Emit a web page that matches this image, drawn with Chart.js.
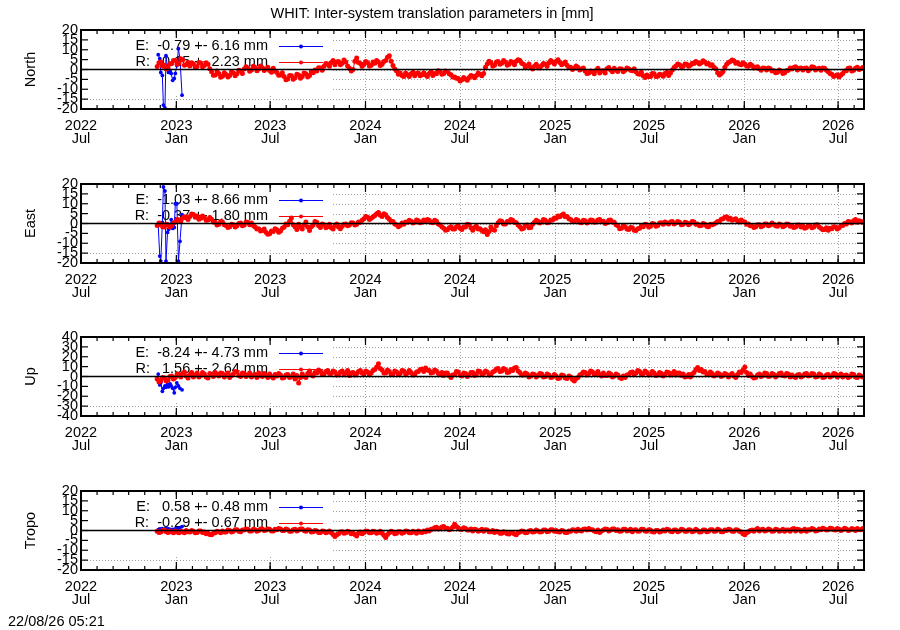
<!DOCTYPE html>
<html>
<head>
<meta charset="utf-8">
<script src="https://cdn.jsdelivr.net/npm/chart.js@4.4.1/dist/chart.umd.min.js"></script>
<style>
    body { margin: 0; background: #fff; }
    #wrap { position: relative; width: 900px; height: 630px; overflow: hidden; }
    .panel { position: absolute; left: 0; width: 900px; height: 154px; }
    #stamp { position: absolute; left: 8px; top: 614px; font: 14.5px "Liberation Sans", Arial, sans-serif; line-height: 14px; color: #000; }
</style>
</head>
<body>
<div id="wrap">
    <div class="panel" style="top:0px"><canvas id="c0" width="900" height="154"></canvas></div>
    <div class="panel" style="top:154px"><canvas id="c1" width="900" height="154"></canvas></div>
    <div class="panel" style="top:307px"><canvas id="c2" width="900" height="154"></canvas></div>
    <div class="panel" style="top:461px"><canvas id="c3" width="900" height="154"></canvas></div>
    <div id="stamp">22/08/26 05:21</div>
</div>
<script>
// 軸の設定
const xStart = "2022-07-01";
const xEnd = "2026-08-20";
const xTickDates = ["2022-07-01", "2023-01-01", "2023-07-01", "2024-01-01", "2024-07-01", "2025-01-01", "2025-07-01", "2026-01-01", "2026-07-01"];
const xTickYears = ["2022", "2023", "2023", "2024", "2024", "2025", "2025", "2026", "2026"];
const xTickMonths = ["Jul", "Jan", "Jul", "Jan", "Jul", "Jan", "Jul", "Jan", "Jul"];

const panelNames = ["North", "East", "Up", "Tropo"];
const yLimits = [20, 20, 40, 20];
const yStepSizes = [5, 5, 10, 5];
const keyE = ["E:  -0.79 +- 6.16 mm", "E:  -1.03 +- 8.66 mm", "E:  -8.24 +- 4.73 mm", "E:   0.58 +- 0.48 mm"];
const keyR = ["R:   0.15 +- 2.23 mm", "R:  -0.37 +- 1.80 mm", "R:   1.56 +- 2.64 mm", "R:  -0.29 +- 0.67 mm"];

// R系列（3.5日ごと）
const redStart = "2022-11-25";
const redStepDays = 3.5;

const northR = [
    1.5, 3.4, 3.8, 1.6, 2.2, 0.2, 0.8, 2.8, 3.0, 4.6, 4.5, 2.6, 3.2, 5.4, 4.8, 2.2, 2.5, 3.6, 1.8, 3.4,
    2.8, 1.0, 1.5, 3.6, 3.3, 1.4, 2.0, 3.4, 2.6, 0.4, -1.2, -2.9, -2.8, -0.8, -2.0, -3.9, -3.4, -1.6, -2.5, -3.8,
    -3.0, -1.2, -1.8, -3.2, -2.2, -0.4, -0.8, -2.0, 0.2, 1.4, 0.8, -0.9, -0.3, 1.6, 1.0, -0.6, 0.2, 1.8, 0.9, -0.5,
    0.3, 1.2, -0.5, -1.4, 0.6, -0.8, -1.5, -2.9, -2.8, -1.6, -3.6, -5.2, -4.8, -3.0, -3.2, -4.9, -4.2, -2.4, -2.8, -4.4,
    -3.5, -1.8, -2.2, -3.8, -3.0, -1.2, -1.6, -0.2, -0.8, 0.9, 0.8, -0.4, 1.6, 3.0, 2.8, 1.6, 3.6, 4.6, 2.4, 3.8,
    4.0, 2.4, 3.2, 4.8, 3.8, 1.8, 0.6, -0.8, 0.0, 4.2, 5.8, 3.6, 3.0, 1.6, 2.6, 4.0, 3.4, 1.8, 2.2, 3.8,
    3.2, 4.6, 3.8, 2.0, 2.6, 4.0, 4.6, 6.2, 7.0, 4.2, 2.0, 0.2, -0.8, -2.4, -1.8, -3.0, -3.6, -1.8, -2.6, -3.6,
    -2.2, -1.4, -3.2, -2.0, -1.8, -3.2, -2.6, -1.6, -2.8, -3.6, -2.0, -1.2, -3.0, -2.0, -2.2, -0.6, -1.0, -2.4, -2.0, -0.8,
    -1.0, -2.2, -2.6, -3.8, -3.8, -4.4, -4.6, -5.8, -5.2, -4.0, -4.8, -5.4, -4.0, -3.0, -3.4, -4.2, -3.0, -1.8, -2.4, -3.2,
    -2.0, 1.2, 2.8, 4.2, 3.6, 1.8, 2.2, 3.8, 4.0, 2.6, 3.2, 4.6, 3.8, 2.2, 2.6, 4.0, 3.5, 2.4, 4.2, 5.0,
    4.6, 3.2, 2.6, 1.0, 1.8, 2.8, 1.0, 0.2, 1.6, 2.6, 1.4, 0.8, 2.0, 3.0, 2.6, 1.6, 3.4, 4.6, 3.8, 2.8,
    4.2, 5.0, 3.6, 2.4, 3.0, 3.8, 2.2, 1.0, 1.2, 0.0, 0.6, 1.8, 1.2, -0.2, 0.2, 0.8, -0.8, -2.0, -1.8, -0.8,
    -1.2, -2.2, -0.5, 0.6, -1.8, -0.8, -0.6, -1.8, 0.4, 1.0, -0.2, -1.2, 0.6, -0.4, -1.0, 0.4, 0.2, -1.2, -0.4, 0.8,
    0.4, -0.4, -0.6, 0.4, -1.2, -2.2, -2.4, -1.4, -3.2, -4.0, -2.8, -3.6, -3.6, -2.0, -2.2, -3.6, -3.4, -2.4, -2.6, -3.4,
    -2.0, -1.4, -3.0, -1.8, -0.2, 1.0, 1.8, 2.8, 2.4, 1.4, 1.6, 2.8, 2.6, 1.6, 2.2, 3.2, 3.0, 4.0, 3.6, 2.8,
    3.4, 4.4, 3.8, 2.8, 3.0, 2.0, 2.4, 1.2, 0.4, -1.6, -2.8, -2.0, -1.0, 1.2, 2.6, 3.6, 4.0, 4.8, 4.4, 3.2,
    3.6, 2.6, 2.4, 3.4, 2.8, 1.8, 1.6, 2.6, 2.0, 0.8, 1.2, 1.4, 0.4, -0.4, 0.8, 0.6, -0.2, 0.8, 0.4, -0.8,
    -0.6, -1.6, -1.4, -0.2, -0.8, -2.0, -1.6, -0.6, -0.4, 0.8, 0.2, 1.0, 1.4, -0.2, 0.6, 0.8, -0.2, 0.6, 0.8, -0.6,
    0.2, 1.4, 1.2, -0.2, 0.4, 0.6, -0.4, 0.8, 0.6, -0.4, -1.2, -2.0, -2.4, -3.6, -3.2, -2.6, -3.8, -2.8, -2.0, -0.8,
    -0.6, 0.6, 0.8, -0.8, -0.4, 0.6, 1.2, 0.0, 0.4, 1.0
];
const eastR = [
    -1.0, 0.2, -0.4, -1.6, -1.8, -0.4, -0.6, -1.8, -1.2, 0.2, 0.8, 2.0, 1.8, 1.0, 2.6, 3.4, 3.2, 2.0, 3.6, 4.8,
    4.6, 3.2, 3.8, 2.2, 2.6, 3.8, 3.0, 1.6, 1.8, 3.0, 2.2, 0.8, 0.6, -0.8, -0.4, 1.0, 0.8, -0.6, -1.0, -2.0,
    -1.6, -0.4, -0.6, -1.8, -1.2, 0.0, 0.2, -1.2, -0.8, 0.8, 0.6, -0.6, 0.2, -1.0, -1.8, -2.8, -2.6, -3.8, -3.6, -2.8,
    -4.4, -5.4, -5.2, -3.8, -4.0, -2.6, -3.2, -4.4, -3.8, -2.4, -1.8, -0.2, -0.6, 1.2, 2.8, -0.6, -1.6, -3.0, -0.4, -1.8,
    -2.8, -0.8, 0.8, -1.8, -3.6, -1.6, -0.8, 1.0, 0.6, -1.2, -2.0, -0.2, -0.6, -2.2, -1.6, -0.4, -2.2, -2.8, -1.0, -0.2,
    -1.8, -2.6, -1.4, -0.4, -0.2, -1.2, -0.8, 0.4, 0.2, -0.8, -0.4, 0.8, 0.6, 1.6, 2.4, 3.6, 3.2, 2.0, 2.6, 3.4,
    4.0, 5.0, 5.6, 4.2, 3.6, 5.0, 4.4, 3.0, 2.2, 1.2, 1.0, -0.2, -0.6, -1.6, -1.0, 0.2, -0.4, 0.8, 0.6, 1.6,
    1.2, 0.2, 0.6, 1.8, 1.4, 0.4, 0.8, 1.8, 1.0, 2.0, 1.6, 0.6, 0.4, 1.6, 1.2, -0.2, -0.8, -1.6, -2.4, -3.4,
    -3.2, -2.2, -1.6, -2.8, -2.8, -1.6, -1.2, -2.4, -3.0, -1.8, -1.8, -0.4, -0.6, -2.2, -3.4, -2.0, -1.4, -2.8, -2.6, -3.6,
    -4.2, -3.2, -5.6, -4.0, -1.8, -3.0, -3.4, -1.2, 0.4, 1.4, 1.2, -0.2, -0.2, 1.0, 0.8, 2.0, 1.6, 0.6, 0.4, -0.8,
    -1.6, -2.8, -2.4, -1.0, -0.8, -2.2, -2.0, -0.4, 0.6, 1.6, 1.2, 0.2, 0.8, 2.0, 1.6, 0.4, 0.6, 1.8, 1.8, 2.8,
    2.6, 3.8, 3.4, 4.2, 4.8, 3.4, 3.6, 2.4, 2.0, 1.0, 1.0, 2.0, 1.6, 0.6, 0.4, 1.6, 1.4, 0.2, 0.8, 1.8,
    1.6, 0.6, 0.8, 1.8, 2.0, 1.0, 1.2, 0.0, 0.4, 1.6, 1.8, 0.8, 0.6, -0.6, -1.2, -2.6, -2.4, -1.2, -1.6, -2.8,
    -3.0, -2.0, -2.2, -3.4, -3.6, -2.6, -2.4, -1.2, -1.6, -0.4, -0.6, -1.8, -1.4, 0.0, -0.2, -1.4, -1.0, 0.2, 0.4, -0.4,
    0.8, 0.2, -0.2, 0.8, 1.0, -0.2, 0.2, 1.0, 0.6, -0.6, -0.4, 0.6, 0.4, -0.6, 0.0, 1.0, 0.8, -0.4, -0.2, -1.2,
    -1.0, 0.0, -0.4, -1.4, -1.6, -0.4, -0.6, -0.2, 0.2, 1.0, 1.2, 2.2, 2.4, 3.2, 3.4, 2.2, 2.6, 1.6, 2.0, 2.4,
    1.4, 0.8, 1.8, 1.0, 0.8, -0.4, -0.2, -1.2, -1.0, -2.0, -1.6, -0.6, -0.6, -1.6, -1.2, -0.2, -0.2, -1.2, -0.8, 0.2,
    -0.4, -1.2, -1.4, -0.2, -0.6, -1.6, -1.2, -0.2, -0.4, -1.4, -1.0, -2.0, -1.8, -0.8, -0.8, -1.8, -1.4, -2.4, -2.0, -1.0,
    -1.2, -2.2, -1.8, -0.8, -0.6, -1.8, -2.4, -3.2, -3.0, -2.2, -3.4, -2.4, -2.6, -1.6, -1.8, -2.8, -2.2, -1.2, -1.0, 0.0,
    -0.2, 1.0, 0.8, 0.2, 1.4, 2.0, 0.6, 1.4, 1.2, 0.6
];
const upR = [
    -2.5, -5.5, -4.0, -1.0, -1.5, -4.5, -3.5, 0.0, 0.5, -2.5, -1.0, 2.5, 1.5, -0.5, 3.0, 4.5, 0.5, -1.5, 2.0, 4.0,
    -0.5, 1.5, 3.5, -0.5, 1.0, 4.0, 2.5, -0.5, -1.5, 3.0, 2.0, 0.0, 4.0, 2.0, 0.5, 3.5, 3.0, -0.5, 1.5, 3.5,
    -1.0, 1.0, 2.5, 5.0, 4.5, 1.0, 0.0, 3.5, 3.0, 0.0, 1.5, 3.5, -0.5, 1.5, 2.0, -1.0, 3.5, 1.0, 0.0, 3.0,
    1.0, -1.0, 2.5, 0.0, -1.5, 2.0, 0.5, 3.0, 1.5, -1.5, -1.0, 1.5, 2.0, -1.0, 0.0, 2.5, -2.5, 1.0, -6.5, -1.0,
    2.5, 0.0, -1.0, 3.0, 5.5, 1.5, 0.5, 4.0, 3.5, 6.5, 5.0, 2.0, 2.5, 5.0, 6.0, 3.0, 3.0, 5.5, 4.5, 1.5,
    2.0, 4.5, 5.5, 2.0, 3.5, 6.0, 1.0, 3.5, 4.0, 1.5, 3.0, 5.0, 6.0, 3.5, 2.5, 5.5, 4.5, 2.0, 3.5, 6.0,
    7.0, 9.5, 13.0, 8.0, 6.5, 3.5, 3.5, 6.5, 5.0, 2.0, 2.5, 5.5, 4.5, 2.0, 3.0, 6.0, 5.5, 2.5, 3.5, 6.0,
    4.0, 1.5, 2.0, 4.5, 5.0, 7.0, 7.5, 5.0, 8.5, 6.5, 6.0, 3.5, 4.0, 6.5, 5.5, 3.0, 2.5, 4.0, 1.0, 3.5,
    3.5, 1.0, -1.0, 1.5, 2.0, 5.0, 4.5, 1.5, 0.5, 3.5, 3.0, 0.0, 1.5, 4.0, 4.0, 1.0, 2.5, 5.5, 5.0, 2.0,
    3.0, 5.5, 4.5, 1.5, 2.0, 4.5, 5.5, 7.5, 8.0, 5.0, 5.5, 8.0, 7.0, 4.0, 4.5, 7.0, 6.0, 8.5, 9.0, 5.5,
    4.0, 1.5, 1.5, 3.5, 2.5, -0.5, 0.5, 2.5, 2.0, -0.5, 1.0, 3.0, 2.5, -0.5, 0.0, 2.5, 1.5, -1.0, -0.5, 2.0,
    0.5, -2.0, -1.5, 1.5, 1.0, -1.5, -2.0, 0.5, -0.5, -3.0, -4.5, -2.0, -1.0, 1.5, 2.5, 4.5, 4.0, 1.5, 3.0, 5.5,
    4.5, 2.0, 3.0, 5.0, 2.0, 0.5, 3.5, 1.0, 1.0, 3.5, 2.5, -0.5, 0.5, 2.5, 1.5, -1.0, -2.0, 0.5, -1.0, 1.5,
    2.0, 4.0, 4.5, 2.0, 3.5, 6.0, 5.0, 2.5, 3.0, 5.5, 4.0, 1.5, 2.5, 5.0, 3.5, 1.0, 1.5, 4.0, 3.0, 0.5,
    2.0, 4.5, 4.0, 1.5, 3.0, 5.0, 1.5, 3.5, 3.5, 1.0, 2.5, -0.5, 0.0, 2.0, -0.5, 2.5, 4.0, 7.0, 9.0, 6.0,
    7.0, 4.5, 5.0, 2.5, 2.0, 4.5, 3.0, 0.5, 1.5, 3.5, 2.5, 0.0, 1.0, 3.0, 2.0, -0.5, 1.5, 3.0, 0.5, -1.0,
    2.0, 4.5, 4.0, 6.5, 9.5, 4.0, 1.0, 2.5, 0.0, -1.5, -1.0, 1.5, 2.5, 0.0, 1.0, 3.5, 3.0, 0.0, 0.5, 3.0,
    2.0, -0.5, 1.0, 3.0, 3.5, 1.0, 0.5, 3.0, 2.5, -0.5, 1.5, 0.0, -1.0, 1.5, 2.0, -0.5, 0.5, 2.5, 3.0, 0.5,
    1.0, 3.0, 2.5, -0.5, 0.0, 2.5, 1.5, -1.0, -0.5, 1.5, 2.0, -0.5, 0.5, 3.0, 2.5, -0.5, 1.0, 2.5, -0.5, 1.0,
    1.5, -1.0, 0.0, 2.5, 2.0, -0.5, -1.0, 1.5, 0.5, -0.5
];
const tropoR = [
    -0.4, -1.0, -0.8, 0.0, 0.2, -0.6, -1.0, -0.2, -0.6, -1.2, -0.2, -0.8, -1.2, -0.4, -0.6, -1.2, 0.0, -0.6, -0.8, 0.0,
    -0.4, -1.2, -1.0, -0.2, -0.2, -1.0, -0.8, -1.6, -1.4, -2.0, -2.2, -1.4, -1.2, -0.4, -0.6, -1.2, -0.2, -0.8, -0.8, 0.2,
    0.0, -0.8, -0.4, 0.4, 0.4, -0.4, -0.6, 0.2, 0.2, 0.8, 0.6, -0.2, -0.2, 0.6, 0.4, -0.4, 0.0, 0.8, 0.8, 0.0,
    0.2, 0.8, 0.6, -0.2, -0.2, 0.6, 0.4, 1.0, 0.8, 0.0, 0.0, 0.8, 0.4, -0.4, -0.4, 0.4, 0.6, -0.2, 0.2, 0.8,
    0.8, 0.0, -0.4, 0.4, 0.2, -0.8, -0.6, 0.0, -0.2, -1.0, -1.0, -0.2, -0.4, -1.2, -0.8, -0.2, -1.2, -2.0, -3.0, -2.2,
    -1.6, -0.8, -0.6, -1.4, -1.2, -0.4, -0.8, -1.6, -1.4, -2.0, -2.8, -1.4, -0.8, -1.6, -1.0, -0.2, -0.4, -1.2, -1.2, -0.4,
    -0.6, -1.4, -1.0, -0.4, -1.4, -2.4, -3.6, -2.0, -1.2, -0.4, -0.8, -1.6, -1.4, -0.6, -0.6, -1.4, -1.0, -0.2, -0.4, -1.2,
    -1.2, -0.4, -0.8, -1.4, -0.2, -0.8, -1.0, -0.2, -0.6, 0.2, -0.2, 0.6, 0.8, 1.4, 1.6, 0.8, 1.0, 1.8, 2.0, 1.2,
    1.2, 0.4, 0.8, 1.8, 3.2, 2.0, 1.4, 0.6, 0.6, 1.4, 1.0, 0.2, 0.2, 0.8, -0.2, 0.6, 0.4, -0.4, 0.0, 0.6,
    -0.4, 0.4, 0.2, -0.6, -0.6, 0.0, -1.0, -0.4, -0.6, -1.4, -1.4, -0.6, -1.0, -1.6, -1.8, -1.0, -1.2, -1.8, -2.2, -1.2,
    -0.8, -0.2, -0.4, -1.2, -1.0, -0.2, 0.0, -0.8, -0.6, 0.2, -0.2, -0.8, -0.6, 0.2, 0.2, -0.6, -0.4, 0.4, 0.4, -0.4,
    0.0, -0.6, -0.8, 0.0, -0.2, -1.0, -1.0, -0.2, -0.4, 0.4, 0.2, -0.4, 0.6, 0.0, -0.2, 0.6, 0.8, 0.2, 1.0, 0.4,
    0.4, -0.2, -0.6, 0.2, -1.0, -0.2, 0.2, 0.8, 0.6, -0.2, 0.2, 0.8, 0.8, 0.0, 0.4, -0.4, -0.2, 0.6, 0.6, -0.2,
    0.0, 0.6, -0.6, 0.2, 0.4, -0.4, -0.2, 0.6, 0.6, -0.2, -0.4, 0.4, 0.2, -0.6, -0.8, 0.0, 0.0, -0.8, -0.4, 0.2,
    -0.2, 0.6, 0.4, -0.4, -0.6, 0.2, 0.2, -0.6, -0.2, 0.6, 0.4, -0.4, -0.4, 0.4, 0.2, -0.6, -0.2, 0.6, 0.0, -0.8,
    -0.6, 0.2, 0.2, -0.6, -0.4, 0.4, 0.4, -0.4, -0.2, 0.6, 0.2, -0.6, -0.6, 0.2, 0.0, 0.6, 0.4, -0.4, -0.4, 0.4,
    0.2, -0.4, -0.8, -1.6, -2.2, -1.2, -0.6, 0.0, 0.2, -0.4, 0.4, 1.0, -0.2, 0.4, 0.6, -0.2, 0.0, 0.8, 0.4, -0.4,
    -0.2, 0.6, 0.4, -0.4, 0.0, 0.6, -0.4, 0.2, 0.2, -0.4, 0.6, 1.0, -0.2, 0.6, 0.4, -0.4, 0.0, 0.6, -0.4, 0.4,
    0.2, 1.0, 0.6, -0.2, 0.0, 0.8, 0.4, 1.2, 0.8, 0.2, 0.4, 1.2, 1.0, 0.4, 0.2, 1.0, 0.6, 0.0, 0.4, 1.2,
    0.8, 0.0, 0.2, 1.0, 0.6, 0.0, 1.0, 0.4, 0.4, 1.0
];

// E系列（初期のみ）
const blueDates = ["2022-11-27", "2022-11-30", "2022-12-02", "2022-12-05", "2022-12-07", "2022-12-10",
    "2022-12-12", "2022-12-15", "2022-12-17", "2022-12-20", "2022-12-22", "2022-12-25",
    "2022-12-28", "2022-12-30", "2023-01-02", "2023-01-05", "2023-01-08", "2023-01-12"];
const northE = [7.5, 5.5, -1.5, -3.0, -18.0, -19.5, 7.0, 0.5, -1.5, -1.0, -2.0, -5.5, -4.5, -2.0, 2.0, 10.5, 5.5, -13.0];
const eastE = [-1.0, -16.5, -19.0, 0.5, 18.5, 16.5, -19.0, -4.5, -3.0, -2.0, 2.0, -2.5, -2.0, 10.0, 10.0, -19.0, -9.0, 4.5];
const upE = [2.5, -8.5, -6.0, -15.0, -12.0, -9.5, -11.0, -8.0, -10.5, -7.5, -9.5, -12.0, -16.5, -11.0, -6.5, -9.5, -12.0, -13.5];
const tropoE = [0.4, 0.8, 0.6, 1.0, 0.2, 0.6, 1.2, 0.4, 0.8, 0.6, 0.2, 0.6, 0.4, 0.8, 1.0, 0.6, 1.4, 2.0];

const redSeries = [northR, eastR, upR, tropoR];
const blueSeries = [northE, eastE, upE, tropoE];

const fontFamily = '"Liberation Sans", Arial, sans-serif';
const fontSize = 14.5;

// 日付を日数に変換
function dayOf(s) {
    return Date.parse(s + "T00:00:00Z") / 86400000;
}

// 月ごとの補助目盛り
function monthDays() {
    const out = [];
    const end = dayOf(xEnd);
    let y = 2022, m = 6;
    while (true) {
        const d = Date.UTC(y, m, 1) / 86400000;
        if (d > end) break;
        out.push(d);
        m++;
        if (m > 11) { m = 0; y++; }
    }
    return out;
}
const minorDays = monthDays();

function line(ctx, x1, y1, x2, y2) {
    ctx.beginPath();
    ctx.moveTo(x1, y1);
    ctx.lineTo(x2, y2);
    ctx.stroke();
}

// gnuplot風の枠・グリッド・凡例
const gnuFrame = {
    id: "gnuframe",
    beforeDatasetsDraw(chart, args, opts) {
        const { ctx, chartArea: a, scales: { x, y } } = chart;
        ctx.save();
        ctx.strokeStyle = "#a0a0a0";
        ctx.lineWidth = 1;
        ctx.setLineDash([1, 2]);
        y.ticks.forEach(t => {
            const py = Math.round(y.getPixelForValue(t.value)) + 0.5;
            line(ctx, a.left, py, a.right, py);
        });
        x.ticks.forEach(t => {
            const px = Math.round(x.getPixelForValue(t.value)) + 0.5;
            line(ctx, px, a.top, px, a.bottom);
        });
        ctx.setLineDash([]);

        // 凡例の背景
        ctx.fillStyle = "#fff";
        ctx.fillRect(a.left, a.top + 2, 250, 64);

        ctx.font = fontSize + "px " + fontFamily;
        ctx.textAlign = "right";
        ctx.textBaseline = "middle";
        ctx.fillStyle = "#000";
        ctx.fillText(opts.e, a.left + 187, a.top + 16);
        ctx.fillText(opts.r, a.left + 187, a.top + 32);

        [["#0000ff", 16], ["#ff0000", 32]].forEach(([c, dy]) => {
            ctx.strokeStyle = c;
            ctx.fillStyle = c;
            ctx.lineWidth = 1;
            line(ctx, a.left + 198, a.top + dy + 0.5, a.left + 242, a.top + dy + 0.5);
            ctx.beginPath();
            ctx.arc(a.left + 220, a.top + dy + 0.5, 2, 0, Math.PI * 2);
            ctx.fill();
        });
        ctx.restore();
    },
    afterDatasetsDraw(chart) {
        const { ctx, chartArea: a, scales: { x, y } } = chart;
        ctx.save();
        ctx.strokeStyle = "#000";

        // ゼロ線
        ctx.lineWidth = 1.5;
        const y0 = y.getPixelForValue(0);
        line(ctx, a.left, y0, a.right, y0);

        // 目盛り（内向き）
        ctx.lineWidth = 1.2;
        y.ticks.forEach(t => {
            const py = y.getPixelForValue(t.value);
            line(ctx, a.left, py, a.left + 7, py);
            line(ctx, a.right, py, a.right - 7, py);
        });
        x.ticks.forEach(t => {
            const px = x.getPixelForValue(t.value);
            line(ctx, px, a.bottom, px, a.bottom - 8);
            line(ctx, px, a.top, px, a.top + 8);
        });
        minorDays.forEach(d => {
            const px = x.getPixelForValue(d);
            line(ctx, px, a.bottom, px, a.bottom - 4);
            line(ctx, px, a.top, px, a.top + 4);
        });

        // 枠
        ctx.lineWidth = 2;
        ctx.strokeRect(a.left, a.top, a.right - a.left, a.bottom - a.top);
        ctx.restore();
    }
};

// パネルを作成
function makePanel(k) {
    const r0 = dayOf(redStart);
    const redPts = redSeries[k].map((v, i) => ({ x: r0 + i * redStepDays, y: v }));
    const bluePts = blueSeries[k].map((v, i) => ({ x: dayOf(blueDates[i]), y: v }));
    const lim = yLimits[k];
    const step = yStepSizes[k];

    const ctx = document.getElementById("c" + k).getContext("2d");
    return new Chart(ctx, {
        type: "scatter",
        data: {
            datasets: [{
                data: redPts,
                showLine: true,
                borderColor: "#ff0000",
                backgroundColor: "#ff0000",
                borderWidth: 1,
                pointRadius: 2.5,
                pointBorderWidth: 0,
                order: 0
            }, {
                data: bluePts,
                showLine: true,
                borderColor: "#0000ff",
                backgroundColor: "#0000ff",
                borderWidth: 1,
                pointRadius: 1.9,
                pointBorderWidth: 0,
                order: 1
            }]
        },
        options: {
            responsive: false,
            animation: false,
            layout: { padding: { left: 0, right: 36, top: k === 0 ? 0 : 30, bottom: 0 } },
            plugins: {
                legend: { display: false },
                tooltip: { enabled: false },
                title: {
                    display: k === 0,
                    text: "WHIT: Inter-system translation parameters in [mm]",
                    color: "#000",
                    font: { family: fontFamily, size: fontSize, weight: "normal", lineHeight: 1.2 },
                    padding: { top: 5.5, bottom: 7.1 }
                },
                gnuframe: { e: keyE[k], r: keyR[k] }
            },
            scales: {
                x: {
                    type: "linear",
                    min: dayOf(xStart),
                    max: dayOf(xEnd),
                    afterBuildTicks: s => { s.ticks = xTickDates.map(d => ({ value: dayOf(d) })); },
                    afterFit: s => { s.height = 45; },
                    grid: { display: false, drawTicks: false },
                    border: { display: false },
                    ticks: {
                        autoSkip: false,
                        maxRotation: 0,
                        padding: 10,
                        color: "#000",
                        font: { family: fontFamily, size: fontSize, lineHeight: "13px" },
                        callback: (v, i) => [xTickYears[i], xTickMonths[i]]
                    }
                },
                y: {
                    min: -lim,
                    max: lim,
                    afterBuildTicks: s => {
                        const t = [];
                        for (let v = -lim; v <= lim; v += step) t.push({ value: v });
                        s.ticks = t;
                    },
                    afterFit: s => { s.width = 81; },
                    grid: { display: false, drawTicks: false },
                    border: { display: false },
                    ticks: {
                        autoSkip: false,
                        padding: 3,
                        color: "#000",
                        font: { family: fontFamily, size: fontSize }
                    },
                    title: {
                        display: true,
                        text: panelNames[k],
                        color: "#000",
                        font: { family: fontFamily, size: fontSize, lineHeight: 1.2 },
                        padding: { top: 22, bottom: 0 }
                    }
                }
            }
        },
        plugins: [gnuFrame]
    });
}

[0, 1, 2, 3].forEach(makePanel);
</script>
</body>
</html>
